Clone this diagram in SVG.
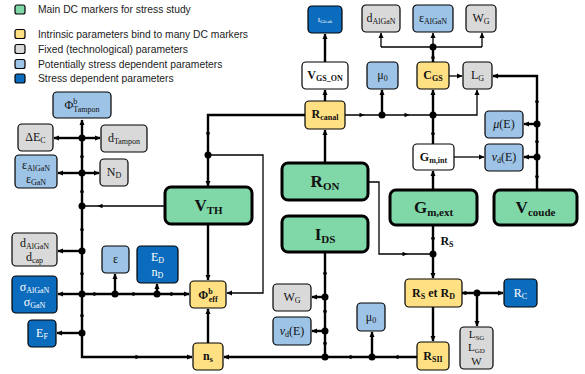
<svg xmlns="http://www.w3.org/2000/svg" xmlns:xlink="http://www.w3.org/1999/xlink" width="585" height="374" viewBox="0 0 585 374">
<style>
.bx{stroke:#000;stroke-width:1.2}
.G{fill:#80D7A7;stroke:#000;stroke-width:3}
.Y{fill:#FFE083}
.R{fill:#D9D9D9}
.L{fill:#9DC3E6}
.D{fill:#0B6CBE}
.W{fill:#FFFFFF}
text{font-family:"Liberation Serif","Times New Roman",serif;font-size:12px;fill:#111;text-anchor:middle}
.lg{font-family:"Liberation Sans",Arial,sans-serif;font-size:10.3px;text-anchor:start;fill:#222}
.big{font-size:17px;font-weight:bold}
.b{font-weight:bold}
.wt{fill:#fff}
.s{font-size:8px}
.s2{font-size:11px}
.k{fill:none;stroke:#000;stroke-width:2.4}
.n{fill:none;stroke:#000;stroke-width:1.3}
.dot{fill:#000}
</style>
<defs>
<marker id="ah" viewBox="0 0 10 10" refX="9" refY="5" markerWidth="6" markerHeight="6" markerUnits="userSpaceOnUse" orient="auto"><path d="M0,0.5 L10,5 L0,9.5 z"/></marker>
<path id="ma" d="M-2.5,-2.2 L2.5,0 L-2.5,2.2 z"/>
</defs>

<g id="legend">
<rect class="bx G" x="15" y="5" width="10" height="9" rx="2" style="stroke-width:1.2"/>
<text class="lg" x="38" y="13">Main DC markers for stress study</text>
<rect class="bx Y" x="15" y="29.5" width="10" height="9" rx="2"/>
<text class="lg" x="38" y="37.5">Intrinsic parameters bind to many DC markers</text>
<rect class="bx R" x="15" y="44.5" width="10" height="9" rx="2"/>
<text class="lg" x="38" y="52.5">Fixed (technological) parameters</text>
<rect class="bx L" x="15" y="59.5" width="10" height="9" rx="2"/>
<text class="lg" x="38" y="67.5">Potentially stress dependent parameters</text>
<rect class="bx D" x="15" y="74" width="10" height="9" rx="2"/>
<text class="lg" x="38" y="82">Stress dependent parameters</text>
</g>

<g id="connectors">
<!-- left bus -->
<path class="k" d="M82,138 L82,120" marker-end="url(#ah)"/>
<path class="k" d="M82,138 L82,333"/>
<path class="k" d="M82,333 L82,357 L192,357" marker-end="url(#ah)"/>
<path class="k" d="M82,138 L54,138" marker-end="url(#ah)"/>
<path class="k" d="M82,138 L100,138" marker-end="url(#ah)"/>
<path class="k" d="M82,173 L58,173" marker-end="url(#ah)"/>
<path class="k" d="M82,173 L99,173" marker-end="url(#ah)"/>
<path class="n" d="M165,206 L82,206"/>
<path class="k" d="M82,251 L58,251" marker-end="url(#ah)"/>
<path class="k" d="M82,294 L58,294" marker-end="url(#ah)"/>
<path class="k" d="M82,294 L189,294" marker-end="url(#ah)"/>
<path class="k" d="M115,294 L115,274" marker-end="url(#ah)"/>
<path class="k" d="M157,294 L157,284" marker-end="url(#ah)"/>
<path class="k" d="M82,333 L57,333" marker-end="url(#ah)"/>
<!-- VTH -->
<path class="k" d="M305,115 L208,115 L208,186" marker-end="url(#ah)"/>
<path class="n" d="M208,155 L263,155 L263,293 L227,293" marker-end="url(#ah)"/>
<path class="k" d="M208,224 L208,280" marker-end="url(#ah)"/>
<path class="k" d="M208,343 L208,309" marker-end="url(#ah)"/>
<!-- Rcanal -->
<path class="k" d="M325,101 L325,90" marker-end="url(#ah)"/>
<path class="k" d="M325,62 L325,34" marker-end="url(#ah)"/>
<path class="k" d="M325,163 L325,130" marker-end="url(#ah)"/>
<path class="n" d="M345,115 L477,115 L477,90" marker-end="url(#ah)"/>
<path class="k" d="M382,115 L382,90" marker-end="url(#ah)"/>
<path class="k" d="M433,115 L433,90" marker-end="url(#ah)"/>
<path class="k" d="M433,115 L433,144"/>
<path class="k" d="M433,62 L433,47"/>
<path class="n" d="M381,47 L482,47"/>
<path class="n" d="M381,47 L381,33" marker-end="url(#ah)"/>
<path class="n" d="M433,47 L433,33" marker-end="url(#ah)"/>
<path class="n" d="M482,47 L482,33" marker-end="url(#ah)"/>
<path class="n" d="M449,76 L462,76" marker-end="url(#ah)"/>
<path class="k" d="M537,190 L537,76 L493,76" marker-end="url(#ah)"/>
<path class="k" d="M537,124 L524,124" marker-end="url(#ah)"/>
<path class="k" d="M537,157 L524,157" marker-end="url(#ah)"/>
<path class="n" d="M454,157 L484,157" marker-end="url(#ah)"/>
<path class="k" d="M433,190 L433,171" marker-end="url(#ah)"/>
<path class="k" d="M433,225 L433,254"/>
<path class="n" d="M368,182 L379,182 L379,254 L433,254"/>
<path class="k" d="M433,254 L433,278" marker-end="url(#ah)"/>
<path class="k" d="M433,307 L433,341" marker-end="url(#ah)"/>
<path class="k" d="M462,293 L503,293" marker-end="url(#ah)"/>
<path class="k" d="M477,293 L477,326" marker-end="url(#ah)"/>
<!-- IDS -->
<path class="k" d="M325,252 L325,357"/>
<path class="k" d="M325,297 L312,297" marker-end="url(#ah)"/>
<path class="k" d="M325,331 L312,331" marker-end="url(#ah)"/>
<path class="k" d="M417,357 L224,357" marker-end="url(#ah)"/>
<path class="k" d="M372,357 L372,332" marker-end="url(#ah)"/>
<!-- mid arrows -->
<use href="#ma" transform="translate(82,155) rotate(-90)"/>
<use href="#ma" transform="translate(82,190) rotate(-90)"/>
<use href="#ma" transform="translate(82,228) rotate(-90)"/>
<use href="#ma" transform="translate(82,272) rotate(-90)"/>
<use href="#ma" transform="translate(82,314) rotate(-90)"/>
<use href="#ma" transform="translate(138,357)"/>
<use href="#ma" transform="translate(100,206) rotate(180)"/>
<use href="#ma" transform="translate(96,294)"/>
<use href="#ma" transform="translate(135,294)"/>
<use href="#ma" transform="translate(173,294)"/>
<use href="#ma" transform="translate(208,135) rotate(90)"/>
<use href="#ma" transform="translate(362,115)"/>
<use href="#ma" transform="translate(407,115)"/>
<use href="#ma" transform="translate(433,132) rotate(-90)"/>
<use href="#ma" transform="translate(433,56) rotate(-90)"/>
<use href="#ma" transform="translate(537,100) rotate(-90)"/>
<use href="#ma" transform="translate(537,140) rotate(-90)"/>
<use href="#ma" transform="translate(537,175) rotate(-90)"/>
<use href="#ma" transform="translate(433,240) rotate(90)"/>
<use href="#ma" transform="translate(405,254)"/>
<use href="#ma" transform="translate(325,275) rotate(90)"/>
<use href="#ma" transform="translate(325,313) rotate(90)"/>
<use href="#ma" transform="translate(325,345) rotate(90)"/>
<use href="#ma" transform="translate(349,357) rotate(180)"/>
<use href="#ma" transform="translate(396,357) rotate(180)"/>
<use href="#ma" transform="translate(467,293)"/>
<!-- junctions -->
<circle class="dot" cx="82" cy="138" r="3.5"/>
<circle class="dot" cx="82" cy="173" r="3.5"/>
<circle class="dot" cx="82" cy="206" r="3.5"/>
<circle class="dot" cx="82" cy="251" r="3.5"/>
<circle class="dot" cx="82" cy="294" r="3.5"/>
<circle class="dot" cx="115" cy="294" r="3.5"/>
<circle class="dot" cx="157" cy="294" r="3.5"/>
<circle class="dot" cx="82" cy="333" r="3.5"/>
<circle class="dot" cx="208" cy="155" r="3.5"/>
<circle class="dot" cx="382" cy="115" r="3.5"/>
<circle class="dot" cx="433" cy="115" r="3.5"/>
<circle class="dot" cx="433" cy="47" r="3.5"/>
<circle class="dot" cx="537" cy="124" r="3.5"/>
<circle class="dot" cx="537" cy="157" r="3.5"/>
<circle class="dot" cx="433" cy="254" r="3.5"/>
<circle class="dot" cx="477" cy="293" r="3.5"/>
<circle class="dot" cx="325" cy="297" r="3.5"/>
<circle class="dot" cx="325" cy="331" r="3.5"/>
<circle class="dot" cx="325" cy="357" r="3.5"/>
<circle class="dot" cx="372" cy="357" r="3.5"/>
<text class="b" x="447" y="245" style="font-size:12px">R<tspan class="s" dy="2">S</tspan></text>
</g>

<g id="phiTampon"><rect class="bx L" x="53" y="92" width="58" height="26" rx="4"/><text x="82" y="109">Φ<tspan class="s" dy="-5">b</tspan><tspan class="s" dx="-4" dy="8">Tampon</tspan></text></g>
<g id="dEc"><rect class="bx R" x="18" y="124" width="35" height="27" rx="4"/><text x="35.5" y="141">ΔE<tspan class="s" dy="2">C</tspan></text></g>
<g id="dTampon"><rect class="bx R" x="101" y="125" width="46" height="27" rx="4"/><text x="124" y="142">d<tspan class="s" dy="2">Tampon</tspan></text></g>
<g id="epsL"><rect class="bx L" x="15" y="155" width="42" height="33" rx="4"/><text x="36" y="169">ε<tspan class="s" dy="2">AlGaN</tspan></text><text x="36" y="183">ε<tspan class="s" dy="2">GaN</tspan></text></g>
<g id="ND"><rect class="bx R" x="100" y="159" width="28" height="27" rx="4"/><text x="114" y="176">N<tspan class="s" dy="2">D</tspan></text></g>
<g id="dAlcap"><rect class="bx R" x="12" y="233" width="45" height="33" rx="4"/><text x="34.5" y="247">d<tspan class="s" dy="2">AlGaN</tspan></text><text x="34.5" y="261">d<tspan class="s" dy="2">cap</tspan></text></g>
<g id="eps"><rect class="bx L" x="102" y="246" width="27" height="27" rx="4"/><text x="115.5" y="263">ε</text></g>
<g id="EDnD"><rect class="bx D" x="137" y="246" width="41" height="37" rx="4"/><text class="wt" x="157.5" y="261">E<tspan class="s" dy="2">D</tspan></text><text class="wt" x="157.5" y="276">n<tspan class="s" dy="2">D</tspan></text></g>
<g id="sigma"><rect class="bx D" x="12" y="276" width="45" height="37" rx="4"/><text class="wt" x="34.5" y="291">σ<tspan class="s" dy="2">AlGaN</tspan></text><text class="wt" x="34.5" y="306">σ<tspan class="s" dy="2">GaN</tspan></text></g>
<g id="EF"><rect class="bx D" x="28" y="320" width="28" height="27" rx="4"/><text class="wt" x="42" y="337">E<tspan class="s" dy="2">F</tspan></text></g>
<g id="VTH"><rect class="G" x="165" y="187" width="87" height="37" rx="6"/><text class="big" x="208.5" y="211">V<tspan class="s2" dy="3">TH</tspan></text></g>
<g id="phieff"><rect class="bx Y" x="190" y="281" width="36" height="27" rx="4"/><text class="b" x="208" y="299">Φ<tspan class="s" dy="-5">b</tspan><tspan class="s" dx="-4" dy="8">eff</tspan></text></g>
<g id="ns"><rect class="bx Y" x="193" y="343" width="30" height="27" rx="4"/><text class="b" x="208" y="360">n<tspan class="s" dy="2">s</tspan></text></g>
<g id="IGleak"><rect class="bx D" x="308" y="6" width="34" height="27" rx="4"/><text class="wt" x="325" y="22" style="font-size:7px">I<tspan style="font-size:5px" dy="1">Gleak</tspan></text></g>
<g id="VGSON"><rect class="bx W" x="302" y="62" width="46" height="27" rx="4"/><text class="b" x="325" y="79">V<tspan class="s" dy="2">GS_ON</tspan></text></g>
<g id="Rcanal"><rect class="bx Y" x="305" y="101" width="40" height="28" rx="4"/><text class="b" x="325" y="118">R<tspan class="s" dy="2">canal</tspan></text></g>
<g id="RON"><rect class="G" x="282" y="163" width="86" height="37" rx="6"/><text class="big" x="325" y="187">R<tspan class="s2" dy="3">ON</tspan></text></g>
<g id="IDS"><rect class="G" x="282" y="216" width="86" height="36" rx="6"/><text class="big" x="325" y="240">I<tspan class="s2" dy="3">DS</tspan></text></g>
<g id="WG1"><rect class="bx R" x="273" y="284" width="38" height="27" rx="4"/><text x="292" y="301">W<tspan class="s" dy="2">G</tspan></text></g>
<g id="nud1"><rect class="bx L" x="273" y="317" width="38" height="28" rx="4"/><text x="292" y="335"><tspan font-style="italic">ν</tspan><tspan class="s" dy="2">d</tspan><tspan dy="-2">(E)</tspan></text></g>
<g id="mu1"><rect class="bx L" x="357" y="303" width="28" height="28" rx="4"/><text x="371" y="321">μ<tspan class="s" dy="2">0</tspan></text></g>
<g id="dAlGaN2"><rect class="bx R" x="362" y="5" width="38" height="27" rx="4"/><text x="381" y="22">d<tspan class="s" dy="2">AlGaN</tspan></text></g>
<g id="epsAlGaN2"><rect class="bx L" x="413" y="5" width="40" height="27" rx="4"/><text x="433" y="22">ε<tspan class="s" dy="2">AlGaN</tspan></text></g>
<g id="WG2"><rect class="bx R" x="466" y="5" width="30" height="27" rx="4"/><text x="481" y="22">W<tspan class="s" dy="2">G</tspan></text></g>
<g id="mu2"><rect class="bx L" x="367" y="62" width="31" height="27" rx="4"/><text x="382.5" y="79">μ<tspan class="s" dy="2">0</tspan></text></g>
<g id="CGS"><rect class="bx Y" x="417" y="62" width="32" height="27" rx="4"/><text class="b" x="433" y="79">C<tspan class="s" dy="2">GS</tspan></text></g>
<g id="LG"><rect class="bx R" x="463" y="62" width="29" height="27" rx="4"/><text x="477.5" y="79">L<tspan class="s" dy="2">G</tspan></text></g>
<g id="muE"><rect class="bx L" x="485" y="111" width="38" height="27" rx="4"/><text x="504" y="128"><tspan font-style="italic">μ</tspan>(E)</text></g>
<g id="nuE"><rect class="bx L" x="485" y="144" width="38" height="27" rx="4"/><text x="504" y="161"><tspan font-style="italic">ν</tspan><tspan class="s" dy="2">d</tspan><tspan dy="-2">(E)</tspan></text></g>
<g id="Gmint"><rect class="bx W" x="413" y="144" width="41" height="26" rx="4"/><text class="b" x="433.5" y="161">G<tspan class="s" dy="2">m,int</tspan></text></g>
<g id="Gmext"><rect class="G" x="390" y="190" width="87" height="35" rx="6"/><text class="big" x="433.5" y="213">G<tspan class="s2" dy="3">m,ext</tspan></text></g>
<g id="Vcoude"><rect class="G" x="494" y="190" width="83" height="35" rx="6"/><text class="big" x="535.5" y="213">V<tspan class="s2" dy="3">coude</tspan></text></g>
<g id="RsRd"><rect class="bx Y" x="405" y="279" width="57" height="28" rx="4"/><text class="b" x="433.5" y="297">R<tspan class="s" dy="2">S</tspan><tspan dy="-2"> et R</tspan><tspan class="s" dy="2">D</tspan></text></g>
<g id="RSII"><rect class="bx Y" x="417" y="342" width="32" height="28" rx="4"/><text class="b" x="433" y="360">R<tspan class="s" dy="2">SII</tspan></text></g>
<g id="RC"><rect class="bx D" x="504" y="279" width="33" height="28" rx="4"/><text class="wt" x="520.5" y="297">R<tspan class="s" dy="2">C</tspan></text></g>
<g id="Lsg"><rect class="bx R" x="460" y="327" width="33" height="42" rx="4"/><text x="476.5" y="338" style="font-size:11px">L<tspan style="font-size:7px" dy="1.5">SG</tspan></text><text x="476.5" y="351" style="font-size:11px">L<tspan style="font-size:7px" dy="1.5">GD</tspan></text><text x="476.5" y="365" style="font-size:11px">W</text></g>
</svg>
